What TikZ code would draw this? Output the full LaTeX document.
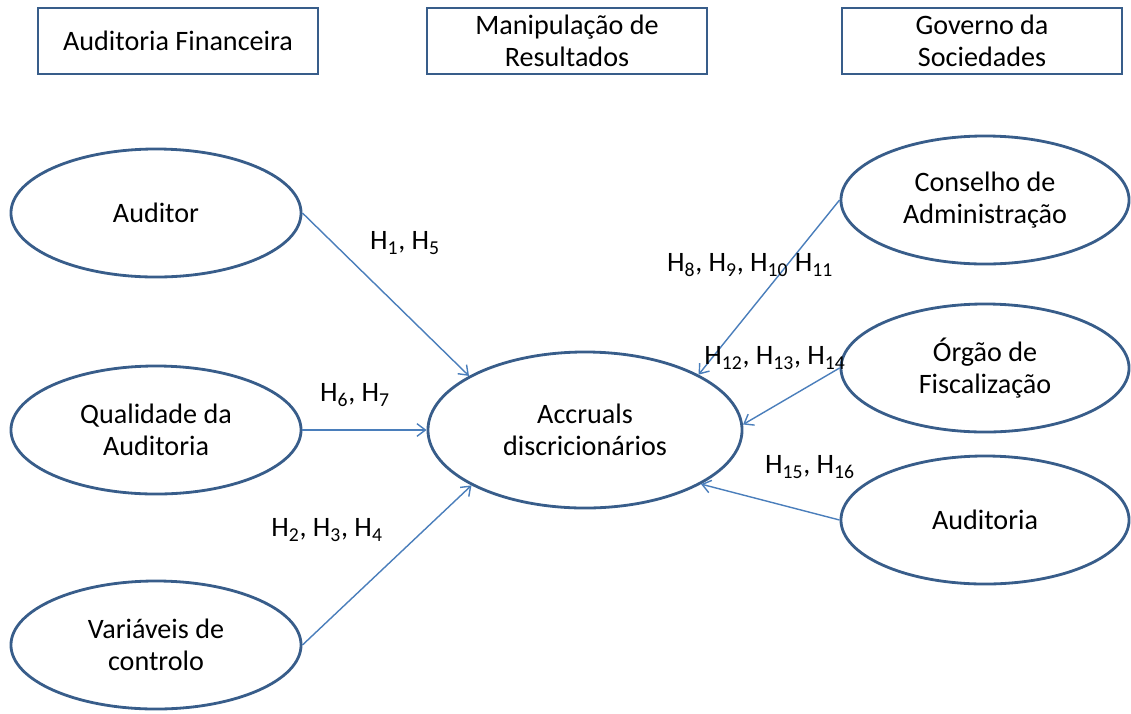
\documentclass[tikz,border=0pt]{standalone}
\usepackage{fontspec}
\setmainfont{Carlito}
\usepackage{tikz}
\usetikzlibrary{positioning,shapes.geometric,arrows.meta}
\definecolor{edge}{RGB}{56,93,138}
\definecolor{link}{RGB}{74,126,187}
\tikzset{theme box/.style={rectangle,draw=edge,line width=2pt,minimum width=7cm,minimum height=1.65cm,align=center,inner sep=0pt,font=\fontsize{20}{23}\selectfont},
var node/.style={ellipse,draw=edge,line width=2pt,minimum width=7.25cm,minimum height=3.2cm,align=center,inner sep=0pt,font=\fontsize{20}{23}\selectfont},
hyp/.style={font=\fontsize{20}{23}\selectfont,inner sep=0pt},
link arrow/.style={draw=link,line width=1pt,-{Straight Barb[length=6pt,width=9pt]}}}

\newcommand{\Hs}[1]{H\textsubscript{#1}}

\begin{document}
\begin{tikzpicture}[x=0.025cm,y=-0.025cm]
            \useasboundingbox (0,0) rectangle (1131,713);
            % themes
            \node[theme box] (fin) at (178,41) {Auditoria Financeira};
            \node[theme box] (man) at (567,41) {Manipula\c{c}\~ao de\\Resultados};
            \node[theme box] (gov) at (982,41) {Governo da\\Sociedades};

            % variables
            \node[var node] (auditor) at (156,213) {Auditor};
            \node[var node] (qual) at (156,430) {Qualidade da\\Auditoria};
            \node[var node] (ctrl) at (156,645) {Vari\'aveis de\\controlo};
            \node[var node,minimum width=7.85cm,minimum height=3.9cm] (accr) at (585,430) {Accruals\\discricion\'arios};
            \node[var node,minimum width=7.2cm] (cons) at (985,200) {Conselho de\\Administra\c{c}\~ao};
            \node[var node,minimum width=7.2cm] (orgao) at (985,368) {\'Org\~ao de\\Fiscaliza\c{c}\~ao};
            \node[var node,minimum width=7.2cm] (audit) at (985,520) {Auditoria};

            \foreach \x/\y in {auditor.east/accr.155,qual.east/accr.west,ctrl.east/accr.206,
                               cons.west/accr.26,orgao.west/accr.2,audit.west/accr.335}{
                \draw[link arrow] (\x) -- (\y);
            }

            % hypotheses
            \node[hyp] (h1) at (405,243) {\Hs{1}, \Hs{5}};
            \node[hyp] (h6) at (355,395) {\Hs{6}, \Hs{7}};
            \node[hyp] (h2) at (327,530) {\Hs{2}, \Hs{3}, \Hs{4}};
            \node[hyp] (h8) at (750,265) {\Hs{8}, \Hs{9}, \Hs{10} \Hs{11}};
            \node[hyp] (h12) at (775,358) {\Hs{12}, \Hs{13}, \Hs{14}};
            \node[hyp] (h15) at (810,467) {\Hs{15}, \Hs{16}};
        \end{tikzpicture}
\end{document}
